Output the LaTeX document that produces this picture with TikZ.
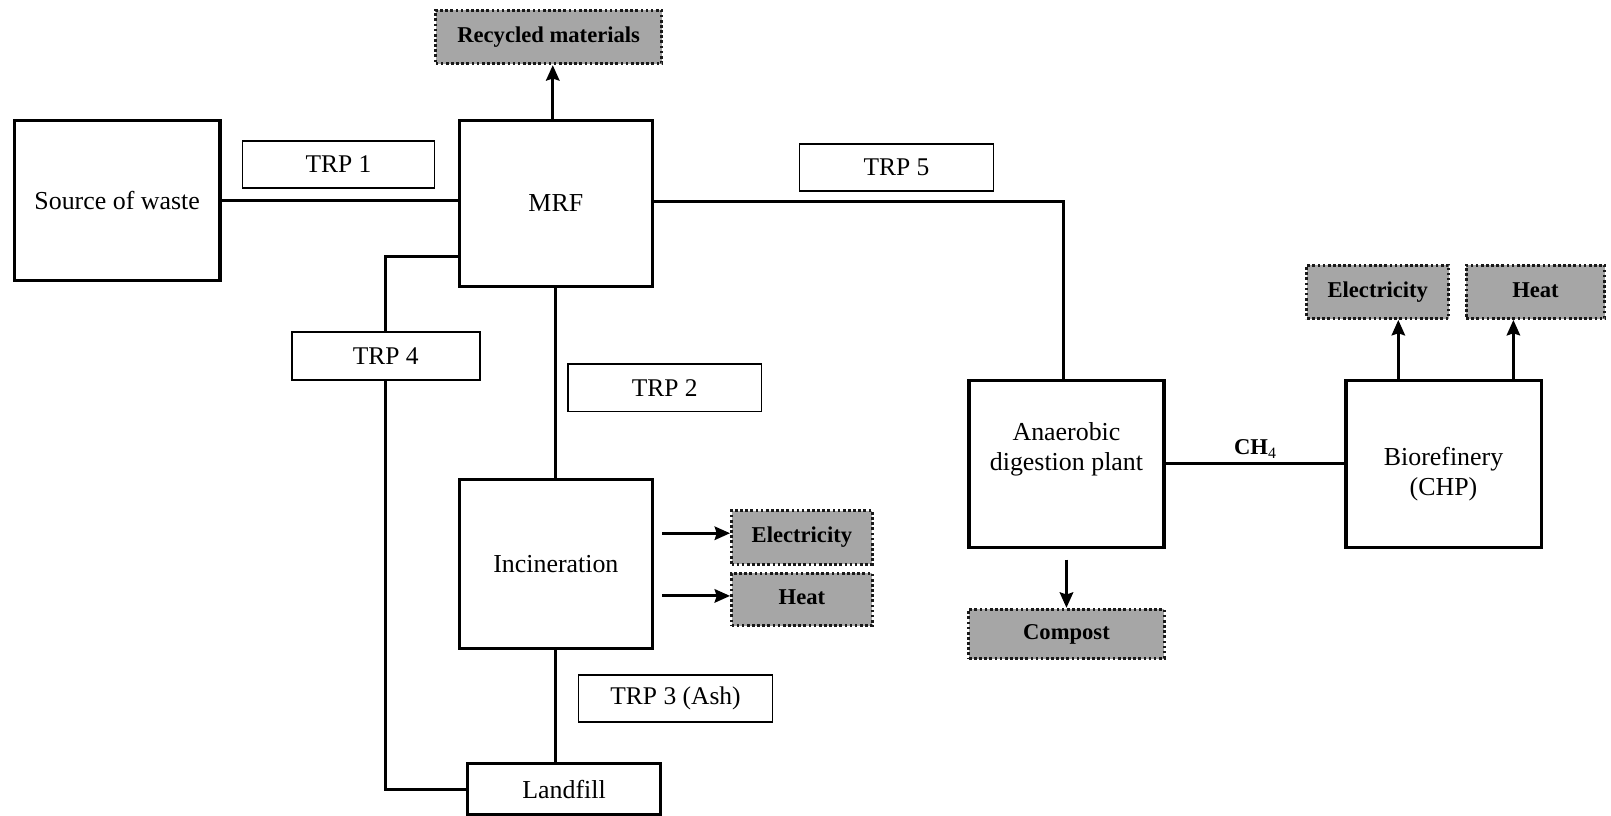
\documentclass[tikz,border=0pt]{standalone}
\usepackage{fontspec}
\setmainfont{Liberation Serif}
\usetikzlibrary{arrows.meta,backgrounds}
\definecolor{outgray}{HTML}{A6A6A6}
\begin{document}
\begin{tikzpicture}[x=0.5pt,y=-0.5pt,
  bigbox/.style={draw, line width=1.6pt, fill=white, inner sep=0pt, align=center,
    font=\fontsize{12.6}{14.5}\selectfont},
  trpbox/.style={draw, line width=0.8pt, fill=white, inner sep=0pt,
    font=\fontsize{12.4}{14}\selectfont},
  outbox/.style={draw=black!90, line width=1.4pt, dash pattern=on 1.3pt off 1.2pt,
    fill=outgray, inner sep=0pt, font=\bfseries\fontsize{11}{13}\selectfont},
  conn/.style={line width=1.5pt},
  arr/.style={line width=1.5pt, -{Stealth[length=7.5pt,width=6.5pt,inset=1pt]}}
]
\useasboundingbox (0,0) rectangle (1568,794);

% process boxes
\node[bigbox, minimum width=100pt, minimum height=78pt] (src) at (114,195) {Source of waste};
\node[bigbox, minimum width=94pt, minimum height=81pt] (mrf) at (541,198) {MRF};
\node[bigbox, minimum width=94pt, minimum height=82pt] (inc) at (541,549) {Incineration};
\node[bigbox, minimum width=94pt, minimum height=25pt] (land) at (549,768) {Landfill};
\node[bigbox, minimum width=95pt, minimum height=81.5pt] (ad) at (1038,451.5) {};
\node[align=center, font=\fontsize{12.6}{14.5}\selectfont] (adtxt) at ([yshift=7pt]ad.center) {Anaerobic\\digestion plant};
\node[bigbox, minimum width=95pt, minimum height=81.5pt] (bio) at (1405,451.5) {};
\node[align=center, font=\fontsize{12.6}{14.5}\selectfont] (biotxt) at ([yshift=-5pt]bio.center) {Biorefinery\\(CHP)};

% transport labels
\node[trpbox, minimum width=93.5pt, minimum height=23pt] (trp1) at (329.5,160) {TRP 1};
\node[trpbox, minimum width=94pt, minimum height=23pt] (trp2) at (647,377.5) {TRP 2};
\node[trpbox, minimum width=94.5pt, minimum height=23pt] (trp3) at (657.5,680) {TRP 3 (Ash)};
\node[trpbox, minimum width=91.5pt, minimum height=23.5pt] (trp4) at (375.5,346.5) {TRP 4};
\node[trpbox, minimum width=94.5pt, minimum height=23pt] (trp5) at (872.5,163) {TRP 5};

% outputs
\node[outbox, minimum width=110pt, minimum height=26pt] (rec) at (534,36) {\raisebox{2pt}{Recycled materials}};
\node[outbox, minimum width=68.5pt, minimum height=26pt] (el1) at (780.5,523) {\raisebox{2pt}{Electricity}};
\node[outbox, minimum width=68.5pt, minimum height=25.5pt] (ht1) at (780.5,583.5) {\raisebox{2pt}{Heat}};
\node[outbox, minimum width=95pt, minimum height=24pt] (comp) at (1038,617) {Compost};
\node[outbox, minimum width=69pt, minimum height=26pt] (el2) at (1341,284) {\raisebox{2pt}{Electricity}};
\node[outbox, minimum width=67.5pt, minimum height=26pt] (ht2) at (1494.5,284) {\raisebox{2pt}{Heat}};

\node[font=\bfseries\fontsize{11}{13}\selectfont] (ch4) at (1222,437) {CH\textsubscript{\mdseries 4}};

\coordinate (c4) at (375.5,250);

\begin{pgfonlayer}{background}
\draw[conn] (src.east) -- (src.east -| mrf.west);
\draw[conn] (mrf.east |- 0,196) -| (1035,196) -- (1035,0 |- ad.north);
\draw[conn] (mrf.west |- c4) -- (c4) |- (land.west);
\draw[conn] (mrf.south) -- (inc.north);
\draw[conn] (inc.south) -- (inc.south |- land.north);
\draw[conn] (ad.east) -- (bio.west);
\end{pgfonlayer}

\draw[arr] (mrf.north -| 538,0) -- (538,0 |- rec.south);
\draw[arr] ([xshift=4pt]inc.east |- 0,519) -- (el1.west |- 0,519);
\draw[arr] ([xshift=4pt]inc.east |- 0,580) -- (ht1.west |- 0,580);
\draw[arr] ([yshift=-5pt]ad.south) -- (comp.north);
\draw[arr] ([xshift=-22pt]bio.north) -- ([xshift=-22pt]bio.north |- el2.south);
\draw[arr] ([xshift=34pt]bio.north) -- ([xshift=34pt]bio.north |- ht2.south);
\end{tikzpicture}
\end{document}
